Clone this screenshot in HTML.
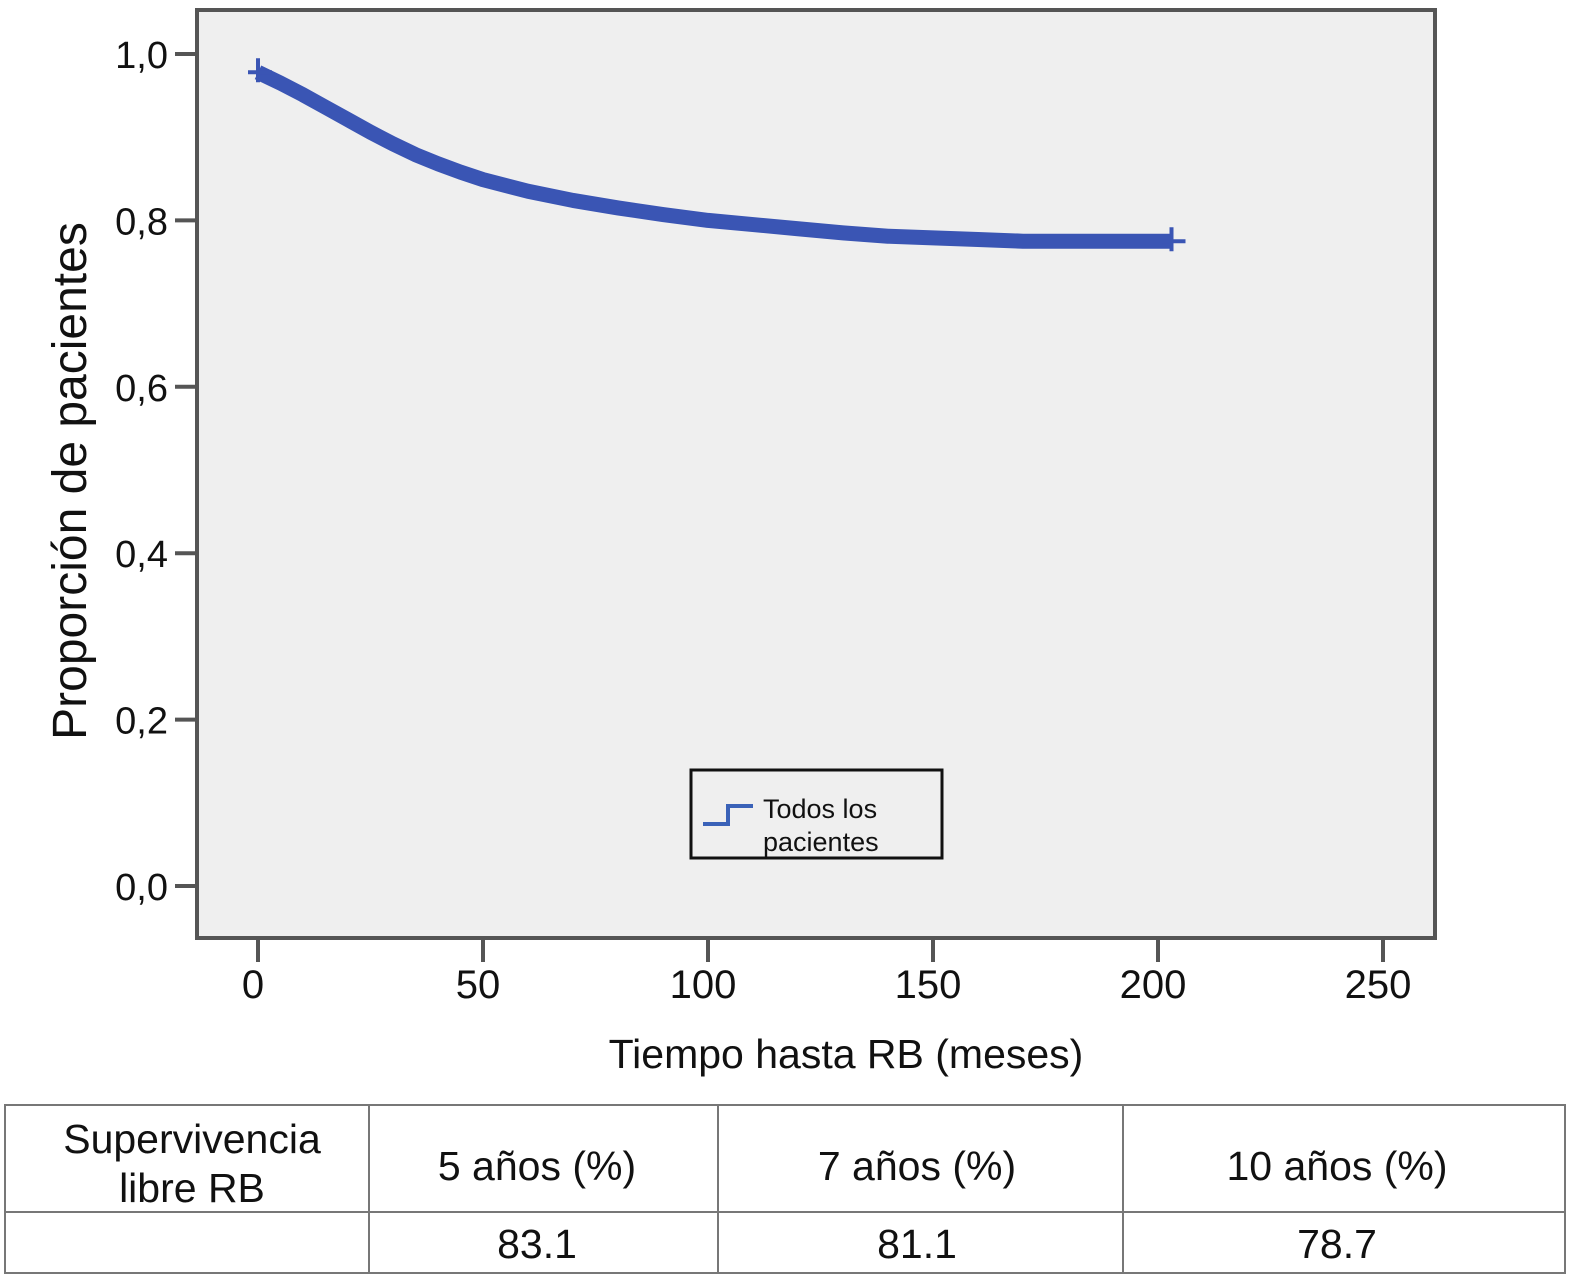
<!DOCTYPE html>
<html><head><meta charset="utf-8"><style>
body{margin:0;background:#fff;width:1583px;height:1288px;overflow:hidden;font-family:"Liberation Sans",Arial,sans-serif}
svg{position:absolute;left:0;top:0}
</style></head><body>
<svg width="1583" height="1288">
<rect x="197" y="10" width="1238" height="928" fill="#efefef" stroke="#555" stroke-width="4"/>
<g id="axes"></g>
<g id="curve"></g>
<g>
<rect x="691" y="770" width="251" height="88" fill="#efefef" stroke="#111" stroke-width="3"/>
<path d="M703 824 H728 V806 H753" fill="none" stroke="#3a62b8" stroke-width="4"/>
<text x="763" y="818" font-size="27" fill="#111">Todos los</text>
<text x="763" y="851" font-size="27" fill="#111">pacientes</text>
</g>
<text x="846" y="1068" font-size="41" text-anchor="middle" fill="#111">Tiempo hasta RB (meses)</text>
<text transform="translate(86,481) rotate(-90)" font-size="48" text-anchor="middle" fill="#111">Proporción de pacientes</text>
<g stroke="#777" stroke-width="2" fill="none">
<rect x="5" y="1105" width="1560" height="168"/>
<line x1="5" y1="1212" x2="1565" y2="1212"/>
<line x1="369" y1="1105" x2="369" y2="1273"/>
<line x1="718" y1="1105" x2="718" y2="1273"/>
<line x1="1123" y1="1105" x2="1123" y2="1273"/>
</g>
<g font-size="41" fill="#111" text-anchor="middle">
<text x="192" y="1153">Supervivencia</text>
<text x="192" y="1202">libre RB</text>
<text x="537" y="1180">5 años (%)</text>
<text x="917" y="1180">7 años (%)</text>
<text x="1337" y="1180">10 años (%)</text>
<text x="537" y="1258">83.1</text>
<text x="917" y="1258">81.1</text>
<text x="1337" y="1258">78.7</text>
</g>
</svg>
<script>
const xTicks=[0,50,100,150,200,250];
const yTicks=[0,0.2,0.4,0.6,0.8,1.0];
const yTickLabels=["0,0","0,2","0,4","0,6","0,8","1,0"];
const times=[0,5,10,15,20,25,30,35,40,45,50,60,70,80,90,100,110,120,130,140,150,160,170,180,190,203];
const survival=[0.978,0.965,0.951,0.936,0.921,0.906,0.892,0.879,0.868,0.858,0.849,0.835,0.824,0.815,0.807,0.800,0.795,0.790,0.785,0.781,0.779,0.777,0.775,0.775,0.775,0.775];
const X=v=>258+v*4.5;
const Y=v=>886-v*832;
const NS="http://www.w3.org/2000/svg";
const axes=document.getElementById('axes');
xTicks.forEach(t=>{
 const l=document.createElementNS(NS,'line');
 
 
 l.setAttribute('x1',X(t));l.setAttribute('x2',X(t));l.setAttribute('y1',940);l.setAttribute('y2',962);
 l.setAttribute('stroke','#555');l.setAttribute('stroke-width',4);axes.appendChild(l);
 const tx=document.createElementNS(NS,'text');
 
 
 tx.setAttribute('x',X(t)-5);tx.setAttribute('y',998);tx.setAttribute('font-size',40);tx.setAttribute('text-anchor','middle');tx.setAttribute('fill','#111');
 tx.textContent=t;axes.appendChild(tx);
});
yTicks.forEach((t,i)=>{
 const l=document.createElementNS(NS,'line');
 
 
 l.setAttribute('x1',175);l.setAttribute('x2',196);l.setAttribute('y1',Y(t));l.setAttribute('y2',Y(t));
 l.setAttribute('stroke','#555');l.setAttribute('stroke-width',4);axes.appendChild(l);
 const tx=document.createElementNS(NS,'text');
 
 
 tx.setAttribute('x',168);tx.setAttribute('y',Y(t)+14);tx.setAttribute('font-size',38);tx.setAttribute('text-anchor','end');tx.setAttribute('fill','#111');
 tx.textContent=yTickLabels[i];axes.appendChild(tx);
});
let d='';
times.forEach((t,i)=>{d+=(i?'L':'M')+X(t)+' '+Y(survival[i])+' ';});
const p=document.createElementNS(NS,'path');


p.setAttribute('d',d);p.setAttribute('fill','none');p.setAttribute('stroke','#3a55b4');p.setAttribute('stroke-width',15);p.setAttribute('stroke-linejoin','round');
document.getElementById('curve').appendChild(p);
[[times[0],survival[0]],[times[times.length-1],survival[survival.length-1]]].forEach(([t,s])=>{
 const c=document.createElementNS(NS,'path');
 
 
 c.setAttribute('d',`M${X(t)-10} ${Y(s)}H${X(t)+14}M${X(t)} ${Y(s)-14}V${Y(s)+10}`);
 c.setAttribute('stroke','#3a55b4');c.setAttribute('stroke-width',4);
 document.getElementById('curve').appendChild(c);
});
</script>
</body></html>
